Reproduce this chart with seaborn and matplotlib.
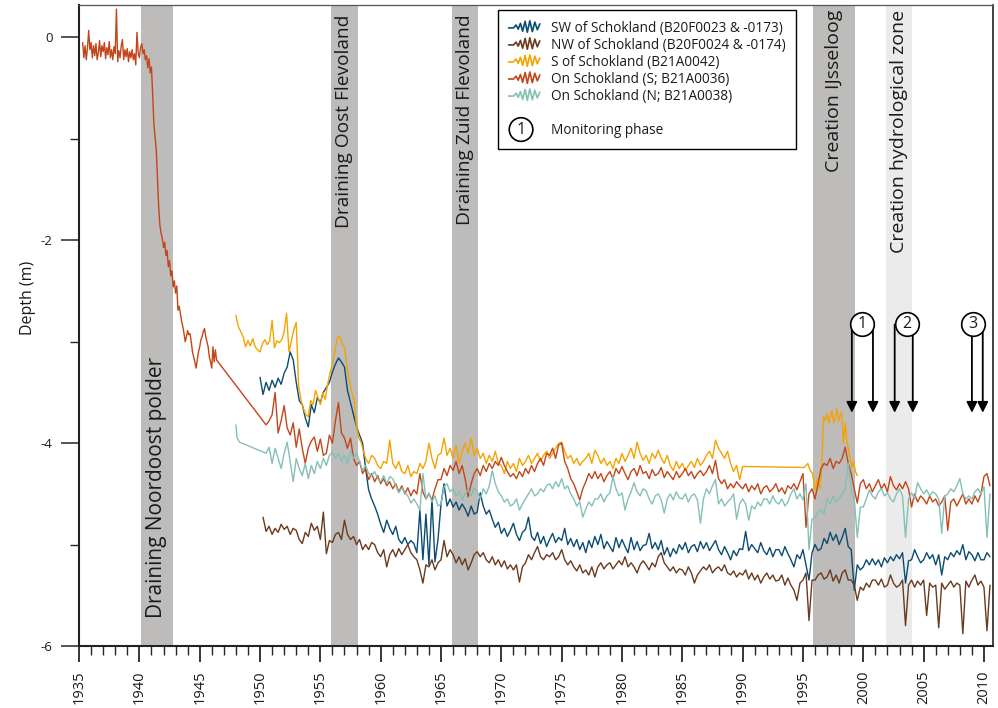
import matplotlib
matplotlib.use("Agg")
import matplotlib.pyplot as plt
from matplotlib.lines import Line2D
from matplotlib.patches import Ellipse
from matplotlib.text import Text
from matplotlib.legend_handler import HandlerBase
from matplotlib.ticker import MultipleLocator
import pandas as pd
import seaborn as sns

# ---------------------------------------------------------------- data
# Groundwater depth (m) around Schokland, sampled on regular time steps.

# SW of Schokland (B20F0023 & -0173): quarterly from 1950.0
sw_start, sw_step = 1950.0, 0.25
sw_depth = [
    -3.35, -3.52, -3.40, -3.48,  # 1950
    -3.38, -3.45, -3.36, -3.42,  # 1951
    -3.31, -3.25, -3.10, -3.18,  # 1952
    -3.40, -3.58, -3.62, -3.75,  # 1953
    -3.84, -3.62, -3.70, -3.55,  # 1954
    -3.60, -3.50, -3.45, -3.40,  # 1955
    -3.30, -3.22, -3.16, -3.20,  # 1956
    -3.25, -3.48, -3.60, -3.72,  # 1957
    -3.84, -3.92, -4.00, -4.25,  # 1958
    -4.46, -4.55, -4.62, -4.70,  # 1959
    -4.80, -4.88, -4.76, -4.84,  # 1960
    -4.90, -4.82, -4.95, -4.99,  # 1961
    -4.93, -5.00, -4.96, -4.99,  # 1962
    -5.08, -4.66, -5.15, -4.70,  # 1963
    -5.20, -4.55, -5.17, -4.95,  # 1964
    -4.60, -4.40, -4.62, -4.55,  # 1965
    -4.63, -4.58, -4.66, -4.60,  # 1966
    -4.65, -4.72, -4.62, -4.70,  # 1967
    -4.68, -4.49, -4.62, -4.70,  # 1968
    -4.66, -4.75, -4.83, -4.78,  # 1969
    -4.89, -4.84, -4.92, -4.86,  # 1970
    -4.79, -4.90, -4.96, -4.88,  # 1971
    -4.85, -4.73, -4.92, -4.96,  # 1972
    -4.88, -4.99, -4.92, -5.02,  # 1973
    -4.95, -4.89, -4.98, -4.93,  # 1974
    -4.96, -4.84, -5.00, -4.94,  # 1975
    -5.02, -4.95, -5.05, -4.98,  # 1976
    -5.08, -4.96, -5.03, -4.92,  # 1977
    -5.00, -4.90, -5.04, -4.97,  # 1978
    -5.02, -5.07, -4.93, -5.03,  # 1979
    -4.95, -5.02, -5.08, -4.93,  # 1980
    -5.05, -4.97, -5.06, -5.01,  # 1981
    -5.00, -4.89, -5.04, -4.98,  # 1982
    -5.05, -4.96, -5.10, -5.03,  # 1983
    -5.12, -5.04, -5.09, -5.00,  # 1984
    -5.05, -4.98, -5.08, -5.02,  # 1985
    -5.00, -5.07, -4.97, -5.04,  # 1986
    -4.98, -5.06, -5.01, -4.96,  # 1987
    -5.05, -5.10, -5.02, -5.08,  # 1988
    -5.15, -5.06, -5.11, -5.04,  # 1989
    -5.05, -4.87, -5.06, -5.00,  # 1990
    -5.04, -5.08, -4.98, -5.06,  # 1991
    -5.10, -5.03, -5.12, -5.05,  # 1992
    -5.05, -5.11, -5.02, -5.09,  # 1993
    -5.15, -5.22, -5.10, -5.14,  # 1994
    -5.05, -5.20, -5.35, -5.08,  # 1995
    -5.00, -5.06, -5.04, -4.94,  # 1996
    -4.99, -4.88, -4.96, -4.90,  # 1997
    -5.00, -4.93, -4.84, -5.02,  # 1998
    -5.05, -5.45, -5.20, -5.25,  # 1999
    -5.22, -5.15, -5.20, -5.14,  # 2000
    -5.20, -5.15, -5.22, -5.13,  # 2001
    -5.18, -5.12, -5.16, -5.10,  # 2002
    -5.14, -5.08, -5.38, -5.16,  # 2003
    -5.15, -5.05, -5.12, -5.18,  # 2004
    -5.15, -5.08, -5.14, -5.10,  # 2005
    -5.20, -5.10, -5.30, -5.12,  # 2006
    -5.15, -5.08, -5.12, -5.06,  # 2007
    -5.10, -5.00, -5.15, -5.07,  # 2008
    -5.10, -5.16, -5.08, -5.15,  # 2009
    -5.15, -5.08, -5.12,         # 2010
]

# NW of Schokland (B20F0024 & -0174): quarterly from 1950.25
nw_start, nw_step = 1950.25, 0.25
nw_depth = [
    -4.73, -4.87, -4.82,         # 1950
    -4.90, -4.84, -4.88, -4.80,  # 1951
    -4.85, -4.82, -4.90, -4.84,  # 1952
    -4.86, -4.95, -4.99, -4.88,  # 1953
    -4.92, -4.79, -4.86, -4.82,  # 1954
    -4.95, -4.68, -5.09, -4.96,  # 1955
    -4.98, -4.90, -4.88, -4.95,  # 1956
    -4.76, -4.90, -4.95, -4.92,  # 1957
    -5.00, -4.95, -5.05, -5.00,  # 1958
    -5.05, -4.98, -5.00, -5.08,  # 1959
    -5.12, -5.05, -5.22, -5.10,  # 1960
    -5.05, -5.12, -5.04, -5.10,  # 1961
    -5.05, -5.00, -5.08, -5.12,  # 1962
    -5.15, -5.25, -5.38, -5.20,  # 1963
    -5.22, -5.15, -5.25, -5.18,  # 1964
    -5.15, -4.96, -5.12, -5.05,  # 1965
    -5.10, -5.18, -5.12, -5.20,  # 1966
    -5.14, -5.25, -5.18, -5.10,  # 1967
    -5.07, -5.12, -5.08, -5.15,  # 1968
    -5.18, -5.12, -5.20, -5.15,  # 1969
    -5.22, -5.16, -5.24, -5.20,  # 1970
    -5.25, -5.20, -5.37, -5.22,  # 1971
    -5.18, -5.10, -5.15, -5.08,  # 1972
    -5.02, -5.12, -5.15, -5.10,  # 1973
    -5.12, -5.08, -5.15, -5.12,  # 1974
    -5.05, -5.15, -5.20, -5.16,  # 1975
    -5.22, -5.26, -5.20, -5.28,  # 1976
    -5.25, -5.30, -5.22, -5.32,  # 1977
    -5.22, -5.18, -5.24, -5.20,  # 1978
    -5.18, -5.24, -5.20, -5.16,  # 1979
    -5.20, -5.12, -5.22, -5.18,  # 1980
    -5.22, -5.28, -5.20, -5.16,  # 1981
    -5.20, -5.25, -5.18, -5.22,  # 1982
    -5.12, -5.08, -5.18, -5.22,  # 1983
    -5.26, -5.22, -5.28, -5.24,  # 1984
    -5.25, -5.30, -5.22, -5.28,  # 1985
    -5.38, -5.30, -5.26, -5.22,  # 1986
    -5.25, -5.20, -5.28, -5.24,  # 1987
    -5.22, -5.26, -5.20, -5.28,  # 1988
    -5.30, -5.26, -5.32, -5.28,  # 1989
    -5.30, -5.25, -5.34, -5.28,  # 1990
    -5.35, -5.30, -5.38, -5.32,  # 1991
    -5.28, -5.34, -5.30, -5.36,  # 1992
    -5.35, -5.30, -5.40, -5.33,  # 1993
    -5.40, -5.45, -5.55, -5.38,  # 1994
    -5.35, -5.28, -5.75, -5.35,  # 1995
    -5.35, -5.30, -5.28, -5.34,  # 1996
    -5.32, -5.25, -5.36, -5.30,  # 1997
    -5.38, -5.28, -5.25, -5.35,  # 1998
    -5.35, -5.40, -5.55, -5.42,  # 1999
    -5.45, -5.38, -5.42, -5.35,  # 2000
    -5.35, -5.40, -5.34, -5.42,  # 2001
    -5.40, -5.30, -5.38, -5.42,  # 2002
    -5.40, -5.35, -5.80, -5.40,  # 2003
    -5.35, -5.42, -5.36, -5.40,  # 2004
    -5.35, -5.70, -5.38, -5.42,  # 2005
    -5.40, -5.82, -5.38, -5.44,  # 2006
    -5.40, -5.36, -5.42, -5.38,  # 2007
    -5.40, -5.88, -5.36, -5.42,  # 2008
    -5.35, -5.30, -5.40, -5.36,  # 2009
    -5.42, -5.85, -5.40,         # 2010
]

# S of Schokland (B21A0042): five per year 1948-1958, quarterly to 1990,
# then the 1995-1999 campaign
s_start_a, s_step_a = 1948.0, 0.2
s_depth_a = [
    -2.74, -2.85, -2.90, -2.95, -3.05,  # 1948
    -2.99, -3.04, -2.97, -3.05, -3.08,  # 1949
    -3.10, -3.02, -2.98, -3.03, -2.99,  # 1950
    -2.79, -3.06, -2.99, -3.01, -2.98,  # 1951
    -2.90, -2.72, -3.10, -2.99, -2.88,  # 1952
    -2.81, -3.44, -3.58, -3.66, -3.72,  # 1953
    -3.74, -3.58, -3.62, -3.48, -3.55,  # 1954
    -3.62, -3.50, -3.57, -3.42, -3.31,  # 1955
    -3.22, -3.10, -2.96, -2.95, -3.02,  # 1956
    -3.05, -3.25, -3.38, -3.50, -3.58,  # 1957
    -3.84, -3.95, -4.00,                # 1958
]
s_start_b, s_step_b = 1958.5, 0.25
s_depth_b = [
    -4.05, -4.15,                # 1958
    -4.20, -4.12, -4.15, -4.22,  # 1959
    -4.25, -4.18, -4.20, -3.97,  # 1960
    -4.20, -4.25, -4.18, -4.28,  # 1961
    -4.30, -4.22, -4.33, -4.28,  # 1962
    -4.30, -4.20, -4.25, -4.18,  # 1963
    -4.00, -4.15, -4.25, -4.12,  # 1964
    -4.10, -3.95, -4.12, -4.05,  # 1965
    -4.15, -4.02, -4.20, -4.08,  # 1966
    -4.00, -4.10, -3.95, -4.12,  # 1967
    -4.05, -4.15, -4.10, -4.20,  # 1968
    -4.12, -4.18, -4.08, -4.20,  # 1969
    -4.22, -4.30, -4.18, -4.25,  # 1970
    -4.20, -4.28, -4.15, -4.22,  # 1971
    -4.18, -4.12, -4.20, -4.15,  # 1972
    -4.10, -4.18, -4.12, -4.08,  # 1973
    -4.15, -4.10, -4.05, -4.00,  # 1974
    -3.99, -4.08, -4.15, -4.12,  # 1975
    -4.20, -4.15, -4.22, -4.18,  # 1976
    -4.15, -4.10, -4.20, -4.07,  # 1977
    -4.12, -4.20, -4.15, -4.22,  # 1978
    -4.18, -4.25, -4.15, -4.20,  # 1979
    -4.10, -4.18, -4.12, -4.05,  # 1980
    -4.15, -3.99, -4.10, -4.17,  # 1981
    -4.12, -4.20, -4.10, -4.15,  # 1982
    -4.07, -4.15, -4.20, -4.12,  # 1983
    -4.22, -4.27, -4.18, -4.25,  # 1984
    -4.20, -4.27, -4.22, -4.18,  # 1985
    -4.24, -4.15, -4.22, -4.18,  # 1986
    -4.12, -4.08, -4.15, -3.97,  # 1987
    -4.05, -4.10, -4.15, -4.08,  # 1988
    -4.20, -4.28, -4.22, -4.36,  # 1989
    -4.23,                       # 1990
]
s_year_c = [1995.1, 1995.4, 1995.6, 1995.8, 1996.0, 1996.2, 1996.4, 1996.55,
            1996.7, 1996.85, 1997.0, 1997.15, 1997.3, 1997.4, 1997.55, 1997.7,
            1997.8, 1997.95, 1998.1, 1998.2, 1998.35, 1998.5, 1998.6, 1998.75,
            1998.9, 1999.05, 1999.2, 1999.35, 1999.5]
s_depth_c = [-4.24, -4.20, -4.27, -4.30, -4.46, -4.35, -4.45, -4.24,
             -3.74, -3.78, -3.71, -3.80, -3.72, -3.68, -3.80, -3.74,
             -3.66, -3.78, -3.72, -3.70, -4.00, -3.80, -3.95, -4.05,
             -4.15, -4.24, -4.18, -4.28, -4.32]

# On Schokland (S; B21A0036): ten per year 1935-1946, quarterly from 1950.5
on_s_start_a, on_s_step_a = 1935.3, 0.1
on_s_depth_a = [
    -0.05, -0.20, -0.08, -0.22, -0.10, 0.07, -0.12, -0.05, -0.20, -0.08,
    -0.18, -0.06, -0.22, -0.15, -0.03, -0.19, -0.08, -0.14, -0.05, -0.21,
    -0.10, -0.17, -0.04, -0.20, -0.12, -0.22, -0.09, -0.16, 0.28, -0.24,
    -0.13, -0.20, -0.08, -0.02, -0.22, -0.12, -0.19, -0.11, -0.24, -0.14,
    -0.20, -0.12, -0.22, -0.16, -0.27, 0.05, -0.15, -0.20, -0.10, -0.06,
    -0.16, -0.12, -0.22, -0.18, -0.30, -0.21, -0.35, -0.29, -0.55, -0.85,
    -0.98, -1.11, -1.40, -1.67, -1.85, -1.93, -1.98, -2.07, -2.02, -2.15,
    -2.10, -2.26, -2.20, -2.35, -2.30, -2.46, -2.40, -2.52, -2.45, -2.69,
    -2.65, -2.72, -2.80, -2.85, -2.92, -3.00, -2.95, -2.89, -2.93, -2.92,
    -3.00, -3.10, -3.15, -3.20, -3.26, -3.18, -3.10, -3.05, -2.98, -2.95,
    -2.90, -2.87, -2.95, -3.00, -3.05, -3.15, -3.20, -3.26, -3.05, -3.20,
    -3.08, -3.18,
]
on_s_start_b, on_s_step_b = 1950.5, 0.25
on_s_depth_b = [
    -3.82, -3.78,                # 1950
    -3.72, -3.50, -3.90, -3.78,  # 1951
    -3.63, -3.85, -3.92, -3.80,  # 1952
    -4.04, -3.86, -4.05, -4.20,  # 1953
    -4.05, -3.98, -3.94, -4.08,  # 1954
    -3.96, -4.12, -4.10, -3.92,  # 1955
    -4.00, -3.78, -3.60, -3.90,  # 1956
    -3.95, -4.05, -3.95, -4.15,  # 1957
    -4.22, -4.18, -4.30, -4.25,  # 1958
    -4.36, -4.30, -4.38, -4.32,  # 1959
    -4.40, -4.35, -4.42, -4.38,  # 1960
    -4.45, -4.40, -4.48, -4.42,  # 1961
    -4.50, -4.44, -4.52, -4.46,  # 1962
    -4.50, -4.30, -4.48, -4.55,  # 1963
    -4.50, -4.56, -4.45, -4.36,  # 1964
    -4.36, -4.25, -4.32, -4.22,  # 1965
    -4.27, -4.18, -4.30, -4.22,  # 1966
    -4.35, -4.53, -4.40, -4.30,  # 1967
    -4.25, -4.32, -4.22, -4.28,  # 1968
    -4.20, -4.25, -4.18, -4.22,  # 1969
    -4.14, -4.22, -4.28, -4.33,  # 1970
    -4.30, -4.35, -4.28, -4.33,  # 1971
    -4.25, -4.30, -4.22, -4.28,  # 1972
    -4.20, -4.15, -4.22, -4.10,  # 1973
    -4.12, -4.05, -4.15, -4.02,  # 1974
    -4.00, -4.18, -4.25, -4.35,  # 1975
    -4.40, -4.48, -4.56, -4.45,  # 1976
    -4.38, -4.30, -4.35, -4.28,  # 1977
    -4.35, -4.30, -4.38, -4.32,  # 1978
    -4.28, -4.35, -4.25, -4.30,  # 1979
    -4.23, -4.30, -4.36, -4.28,  # 1980
    -4.25, -4.32, -4.22, -4.30,  # 1981
    -4.28, -4.35, -4.26, -4.32,  # 1982
    -4.30, -4.24, -4.34, -4.28,  # 1983
    -4.32, -4.36, -4.28, -4.34,  # 1984
    -4.30, -4.25, -4.32, -4.28,  # 1985
    -4.35, -4.30, -4.27, -4.32,  # 1986
    -4.28, -4.22, -4.30, -4.17,  # 1987
    -4.35, -4.40, -4.36, -4.45,  # 1988
    -4.40, -4.44, -4.38, -4.42,  # 1989
    -4.45, -4.40, -4.48, -4.42,  # 1990
    -4.46, -4.40, -4.50, -4.44,  # 1991
    -4.42, -4.48, -4.45, -4.40,  # 1992
    -4.48, -4.44, -4.50, -4.42,  # 1993
    -4.45, -4.40, -4.46, -4.38,  # 1994
    -4.30, -4.83, -4.50, -4.45,  # 1995
    -4.55, -4.40, -4.25, -4.20,  # 1996
    -4.22, -4.15, -4.25, -4.18,  # 1997
    -4.20, -4.15, -4.04, -4.20,  # 1998
    -4.30, -4.45, -4.59, -4.40,  # 1999
    -4.36, -4.45, -4.40, -4.48,  # 2000
    -4.42, -4.36, -4.45, -4.40,  # 2001
    -4.48, -4.33, -4.42, -4.46,  # 2002
    -4.40, -4.45, -4.38, -4.45,  # 2003
    -4.63, -4.50, -4.58, -4.52,  # 2004
    -4.55, -4.60, -4.52, -4.58,  # 2005
    -4.55, -4.62, -4.58, -4.52,  # 2006
    -4.86, -4.58, -4.55, -4.62,  # 2007
    -4.56, -4.50, -4.60, -4.55,  # 2008
    -4.60, -4.52, -4.58, -4.50,  # 2009
    -4.33, -4.30, -4.42,         # 2010
]

# On Schokland (N; B21A0038): first readings in 1948, quarterly from 1950.5
on_n_year_a = [1948.0, 1948.1, 1948.3]
on_n_depth_a = [-3.82, -3.95, -3.99]
on_n_start_b, on_n_step_b = 1950.5, 0.25
on_n_depth_b = [
    -4.10, -4.04,                # 1950
    -4.20, -4.05, -4.15, -4.25,  # 1951
    -4.10, -3.99, -4.18, -4.38,  # 1952
    -4.15, -4.25, -4.32, -4.20,  # 1953
    -4.35, -4.22, -4.30, -4.18,  # 1954
    -4.25, -4.15, -4.22, -4.12,  # 1955
    -4.09, -4.15, -4.10, -4.18,  # 1956
    -4.12, -4.20, -4.08, -4.15,  # 1957
    -4.10, -4.18, -4.27, -4.22,  # 1958
    -4.30, -4.32, -4.28, -4.35,  # 1959
    -4.38, -4.32, -4.40, -4.33,  # 1960
    -4.35, -4.42, -4.49, -4.44,  # 1961
    -4.49, -4.52, -4.59, -4.55,  # 1962
    -4.60, -4.66, -4.30, -4.55,  # 1963
    -4.49, -4.58, -4.52, -4.62,  # 1964
    -4.60, -4.43, -4.40, -4.48,  # 1965
    -4.45, -4.52, -4.48, -4.56,  # 1966
    -4.50, -4.46, -4.52, -4.44,  # 1967
    -4.48, -4.55, -4.45, -4.50,  # 1968
    -4.42, -4.27, -4.40, -4.48,  # 1969
    -4.52, -4.58, -4.55, -4.62,  # 1970
    -4.60, -4.55, -4.66, -4.60,  # 1971
    -4.55, -4.50, -4.45, -4.52,  # 1972
    -4.50, -4.45, -4.48, -4.42,  # 1973
    -4.40, -4.45, -4.38, -4.43,  # 1974
    -4.35, -4.45, -4.42, -4.50,  # 1975
    -4.55, -4.62, -4.58, -4.73,  # 1976
    -4.65, -4.58, -4.62, -4.55,  # 1977
    -4.55, -4.50, -4.58, -4.52,  # 1978
    -4.49, -4.33, -4.45, -4.52,  # 1979
    -4.49, -4.66, -4.55, -4.48,  # 1980
    -4.39, -4.48, -4.52, -4.45,  # 1981
    -4.47, -4.55, -4.60, -4.52,  # 1982
    -4.50, -4.56, -4.69, -4.55,  # 1983
    -4.50, -4.56, -4.48, -4.54,  # 1984
    -4.55, -4.50, -4.58, -4.52,  # 1985
    -4.50, -4.56, -4.79, -4.55,  # 1986
    -4.45, -4.50, -4.42, -4.36,  # 1987
    -4.60, -4.55, -4.62, -4.58,  # 1988
    -4.55, -4.50, -4.75, -4.60,  # 1989
    -4.55, -4.60, -4.76, -4.62,  # 1990
    -4.65, -4.58, -4.62, -4.55,  # 1991
    -4.55, -4.60, -4.52, -4.58,  # 1992
    -4.60, -4.55, -4.62, -4.58,  # 1993
    -4.50, -4.45, -4.55, -4.50,  # 1994
    -4.56, -4.40, -5.05, -4.75,  # 1995
    -4.73, -4.68, -4.65, -4.70,  # 1996
    -4.55, -4.60, -4.52, -4.58,  # 1997
    -4.55, -4.50, -4.45, -4.20,  # 1998
    -4.45, -4.55, -4.93, -4.63,  # 1999
    -4.63, -4.55, -4.46, -4.52,  # 2000
    -4.55, -4.48, -4.45, -4.52,  # 2001
    -4.49, -4.55, -4.58, -4.50,  # 2002
    -4.45, -4.52, -4.93, -4.55,  # 2003
    -4.49, -4.55, -4.39, -4.45,  # 2004
    -4.50, -4.46, -4.52, -4.48,  # 2005
    -4.50, -4.55, -4.89, -4.52,  # 2006
    -4.50, -4.45, -4.48, -4.42,  # 2007
    -4.35, -4.50, -4.55, -4.52,  # 2008
    -4.55, -4.48, -4.45, -4.50,  # 2009
    -4.43, -4.93, -4.50,         # 2010
]

series_names = [
    "SW of Schokland (B20F0023 & -0173)",
    "NW of Schokland (B20F0024 & -0174)",
    "S of Schokland (B21A0042)",
    "On Schokland (S; B21A0036)",
    "On Schokland (N; B21A0038)",
]
series_colors = ["#0A4C72", "#6A3A1E", "#F4A300", "#C2461A", "#83C0B7"]

# Land reclamation / construction periods (start, end, label)
events = [
    (1940.1, 1942.8, "Draining Noordoost polder"),
    (1955.9, 1958.1, "Draining Oost Flevoland"),
    (1965.9, 1968.1, "Draining Zuid Flevoland"),
    (1995.8, 1999.3, "Creation IJsseloog"),
    (2001.9, 2004.0, "Creation hydrological zone"),
]

# Monitoring phases: label, circle position, arrow years
phases = [
    ("1", 1999.9, [1999.05, 2000.8]),
    ("2", 2003.6, [2002.6, 2004.1]),
    ("3", 2009.07, [2009.0, 2009.9]),
]
phase_top, phase_tip = -2.83, -3.70

x_major = list(range(1935, 2011, 5))
y_major = [0, -2, -4, -6]
y_minor = [-1, -3, -5]


def on_grid(start, step, values):
    return [round(start + step * i, 4) for i in range(len(values))]


# ---------------------------------------------------------------- frame
records = [
    (on_grid(sw_start, sw_step, sw_depth), sw_depth),
    (on_grid(nw_start, nw_step, nw_depth), nw_depth),
    (on_grid(s_start_a, s_step_a, s_depth_a)
     + on_grid(s_start_b, s_step_b, s_depth_b) + s_year_c,
     s_depth_a + s_depth_b + s_depth_c),
    (on_grid(on_s_start_a, on_s_step_a, on_s_depth_a)
     + on_grid(on_s_start_b, on_s_step_b, on_s_depth_b),
     on_s_depth_a + on_s_depth_b),
    (on_n_year_a + on_grid(on_n_start_b, on_n_step_b, on_n_depth_b),
     on_n_depth_a + on_n_depth_b),
]
frames = []
for name, (yrs, dep) in zip(series_names, records):
    frames.append(pd.DataFrame({"year": yrs, "depth": dep, "series": name}))
df = pd.concat(frames, ignore_index=True)

# ---------------------------------------------------------------- style
sns.set_style("white")
plt.rcParams["font.family"] = ["Open Sans", "DejaVu Sans"]
plt.rcParams["axes.unicode_minus"] = False
ink = "#1a1a1a"

fig = plt.figure(figsize=(9.98, 7.08), dpi=100)
ax = fig.add_axes([0.0792, 0.0876, 0.9158, 0.9053])

# shaded periods
for a, b, label in events:
    shade = "#EBEBEB" if label.startswith("Creation hydro") else "#BDBCBA"
    ax.axvspan(a, b, color=shade, lw=0, zorder=0)

sns.lineplot(data=df, x="year", y="depth", hue="series",
             hue_order=series_names,
             palette=dict(zip(series_names, series_colors)),
             estimator=None, sort=False, legend=False,
             linewidth=1.0, ax=ax, zorder=2)

# period labels (vertical)
label_style = dict(rotation=90, ha="center", color=ink, zorder=3)
for a, b, label in events:
    mid = (a + b) / 2
    if label.startswith("Draining Noordoost"):
        ax.text(mid, -5.72, label, va="bottom", fontsize=15, **label_style)
    elif label.startswith("Draining"):
        ax.text(mid, 0.23, label, va="top", fontsize=13.8, **label_style)
    else:
        ax.text(mid, 0.27, label, va="top", fontsize=14.0, **label_style)

# monitoring phase markers
for num, cx, arrows in phases:
    for xa in arrows:
        ax.annotate("", xy=(xa, phase_tip), xytext=(xa, phase_top),
                    arrowprops=dict(arrowstyle="-|>", color="black", lw=1.3,
                                    mutation_scale=16, shrinkA=0, shrinkB=0),
                    zorder=4)
    ax.plot([cx], [phase_top], marker="o", ms=17, mfc="white", mec="black",
            mew=1.2, zorder=5, clip_on=False)
    ax.text(cx, phase_top, num, ha="center", va="center", fontsize=11.5,
            color=ink, zorder=6)

# axes, ticks
ax.set_xlim(1935, 2010.75)
ax.set_ylim(-6, 0.32)
ax.set_xticks(x_major)
ax.set_xticklabels([str(v) for v in x_major])
ax.xaxis.set_minor_locator(MultipleLocator(1))
ax.set_yticks(y_major)
ax.set_yticklabels([str(v) for v in y_major])
ax.set_yticks(y_minor, minor=True)
ax.tick_params(axis="x", which="major", direction="out", length=11.5,
               width=1.1, pad=6, labelsize=10.5, labelrotation=90,
               colors="black", labelcolor=ink)
ax.tick_params(axis="x", which="minor", direction="out", length=6.5, width=1.0)
ax.tick_params(axis="y", which="major", direction="out", length=13,
               width=1.1, pad=6, labelsize=9.5, labelcolor=ink)
ax.tick_params(axis="y", which="minor", direction="out", length=6.5, width=1.0)
ax.tick_params(bottom=True, left=True, top=False, right=False, which="both")
ax.set_xlabel("")
ax.set_ylabel("Depth (m)", fontsize=11.5, color=ink)
ax.yaxis.set_label_coords(-0.047, 0.543)
for side, lw in (("left", 1.5), ("bottom", 1.5), ("top", 0.9), ("right", 1.2)):
    ax.spines[side].set_visible(True)
    ax.spines[side].set_linewidth(lw)
    ax.spines[side].set_color("#222222" if side != "top" else "#555555")


# ---------------------------------------------------------------- legend
class SquiggleHandler(HandlerBase):
    fx = [0.0, 0.16, 0.24, 0.31, 0.38, 0.45, 0.53, 0.60, 0.68, 0.76, 0.84, 0.92, 1.0]
    fy = [0.45, 0.45, 0.68, 0.35, 0.82, 0.18, 0.98, 0.10, 1.02, 0.15, 0.92, 0.30, 0.78]

    def create_artists(self, legend, orig_handle, xdescent, ydescent,
                       width, height, fontsize, trans):
        xs = [-xdescent + width * f for f in self.fx]
        ys = [-ydescent - 0.15 * height + 1.3 * height * f for f in self.fy]
        return [Line2D(xs, ys, color=orig_handle.get_color(), lw=1.2,
                       transform=trans)]


class PhaseKey:
    pass


class BlankKey:
    pass


class PhaseHandler(HandlerBase):
    def create_artists(self, legend, orig_handle, xdescent, ydescent,
                       width, height, fontsize, trans):
        cx = -xdescent + width * 0.4
        cy = -ydescent + height * 0.5
        circ = Ellipse((cx, cy), 17, 17, fc="white", ec="black", lw=1.2,
                       transform=trans)
        txt = Text(cx, cy, "1", ha="center", va="center", fontsize=11.5,
                   color=ink, transform=trans)
        return [circ, txt]


class BlankHandler(HandlerBase):
    def create_artists(self, legend, orig_handle, xdescent, ydescent,
                       width, height, fontsize, trans):
        return [Line2D([], [], alpha=0, transform=trans)]


handles = [Line2D([], [], color=c) for c in series_colors]
handles += [BlankKey(), PhaseKey()]
labels = series_names + ["", "Monitoring phase"]
leg = ax.legend(handles, labels, loc="upper left",
                bbox_to_anchor=(0.458, 0.992), borderaxespad=0,
                handler_map={Line2D: SquiggleHandler(), PhaseKey: PhaseHandler(),
                             BlankKey: BlankHandler()},
                fontsize=9.8, handlelength=2.3, handletextpad=0.8,
                labelspacing=0.15, borderpad=0.8, frameon=True,
                fancybox=False, framealpha=1, edgecolor="black")
leg.get_frame().set_linewidth(1.0)
for t in leg.get_texts():
    t.set_color(ink)

fig.savefig("out.png", dpi=100)
